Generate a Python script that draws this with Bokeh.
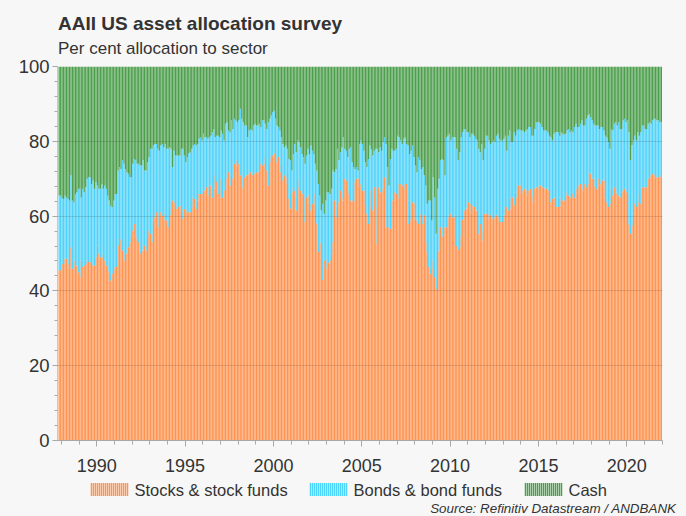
from bokeh.plotting import figure
from bokeh.layouts import column
from bokeh.models import ColumnDataSource, Range1d, FixedTicker, Label
from bokeh.embed import file_html
from bokeh.resources import INLINE

# ---------------- data (monthly, Nov 1987 - Dec 2021) ----------------
start_year = 1987
start_month = 11

# stock allocation (% , top of orange bars)
stocks = [
    45.5, 45.5,                                                              # 1987 Nov-Dec
    47.2, 47.2, 48.6, 48.6, 47.2, 45.9, 51.7, 45.9, 48.1, 46.8, 46.8, 45.0,  # 1988
    43.7, 48.1, 46.4, 46.8, 48.1, 47.2, 47.7, 47.7, 47.2, 46.8, 46.8, 49.0,  # 1989
    52.1, 49.9, 49.0, 49.0, 49.9, 48.1, 46.8, 45.5, 45.0, 42.8, 44.6, 45.5,  # 1990
    46.4, 46.4, 52.1, 53.0, 53.9, 50.8, 48.1, 49.9, 49.9, 51.7, 53.0, 54.4,  # 1991
    56.1, 57.9, 54.8, 53.9, 53.0, 49.9, 50.8, 50.8, 52.1, 50.8, 54.4, 56.1,  # 1992
    55.3, 53.0, 58.8, 59.7, 61.0, 57.0, 60.0, 61.0, 60.0, 59.0, 60.6, 58.8,  # 1993
    57.0, 61.9, 60.2, 64.2, 63.5, 62.4, 61.9, 62.4, 62.8, 61.5, 59.3, 61.9,  # 1994
    61.5, 61.0, 61.0, 61.0, 62.4, 65.0, 64.6, 61.9, 64.2, 65.9, 65.9, 65.9,  # 1995
    66.8, 66.8, 67.7, 65.5, 68.2, 68.2, 65.0, 70.9, 67.3, 69.1, 65.9, 65.0,  # 1996
    70.0, 65.0, 66.8, 67.3, 70.0, 71.7, 68.2, 70.9, 70.0, 74.0, 74.9, 73.5,  # 1997
    74.0, 70.9, 68.2, 67.3, 70.4, 70.9, 70.9, 71.3, 71.7, 70.9, 71.3, 71.3,  # 1998
    71.7, 71.7, 72.2, 74.0, 73.5, 74.0, 75.8, 72.2, 68.2, 74.4, 75.8, 76.2,  # 1999
    76.8, 75.3, 74.4, 75.8, 71.7, 74.0, 69.5, 70.9, 70.4, 68.6, 64.6, 62.0,  # 2000
    66.4, 67.7, 66.8, 61.5, 70.0, 67.7, 66.8, 66.0, 65.5, 58.4, 65.0, 65.5,  # 2001
    63.3, 61.5, 63.3, 65.9, 63.0, 58.0, 50.4, 52.6, 53.0, 43.0, 48.1, 48.6,  # 2002
    45.9, 47.5, 48.1, 49.9, 53.0, 64.2, 59.7, 62.4, 63.7, 66.8, 65.0, 64.2,  # 2003
    70.0, 69.5, 65.9, 66.8, 64.2, 64.2, 63.7, 69.1, 70.0, 70.0, 67.7, 68.6,  # 2004
    66.8, 66.8, 63.0, 60.6, 57.9, 66.8, 62.4, 61.5, 67.7, 52.6, 62.4, 67.7,  # 2005
    66.4, 66.4, 67.3, 70.4, 57.0, 60.2, 57.0, 56.6, 64.2, 64.2, 66.4, 65.9,  # 2006
    68.6, 64.6, 68.6, 68.2, 67.3, 68.6, 68.6, 57.9, 64.2, 58.8, 63.7, 63.3,  # 2007
    59.3, 58.8, 57.9, 60.6, 60.2, 57.9, 60.2, 53.0, 50.4, 46.4, 44.6, 45.9,  # 2008
    48.1, 43.7, 40.5, 50.4, 50.8, 57.0, 54.4, 54.8, 57.0, 57.0, 59.7, 60.2,  # 2009
    60.6, 59.7, 59.7, 60.2, 52.0, 51.0, 51.7, 54.8, 59.0, 61.5, 62.0, 62.0,  # 2010
    63.7, 63.3, 61.0, 62.8, 62.4, 61.5, 61.5, 55.3, 57.9, 53.5, 56.1, 60.6,  # 2011
    60.6, 59.3, 60.6, 60.2, 59.3, 59.3, 59.7, 60.2, 59.7, 58.8, 58.4, 58.4,  # 2012
    60.2, 62.4, 62.4, 61.5, 65.0, 62.0, 65.0, 63.0, 66.4, 65.0, 68.2, 68.2,  # 2013
    65.9, 66.8, 67.3, 66.8, 65.5, 66.8, 67.3, 65.5, 63.7, 67.3, 67.7, 67.3,  # 2014
    68.2, 68.2, 67.7, 67.7, 67.3, 67.3, 66.8, 67.3, 63.7, 64.6, 65.0, 65.0,  # 2015
    62.4, 62.4, 65.0, 62.8, 64.2, 64.2, 65.5, 66.4, 65.5, 65.0, 66.4, 65.9,  # 2016
    65.0, 67.3, 66.4, 68.2, 68.6, 67.3, 66.8, 68.6, 67.7, 68.6, 71.7, 71.3,  # 2017
    70.0, 70.0, 68.0, 67.3, 70.0, 68.2, 68.6, 69.5, 69.5, 65.0, 63.7, 62.4,  # 2018
    63.3, 67.3, 65.5, 67.7, 65.9, 66.4, 65.5, 65.0, 66.4, 66.8, 67.3, 66.4,  # 2019
    65.9, 58.0, 55.3, 57.5, 60.6, 63.3, 62.4, 63.7, 65.9, 63.3, 67.7, 67.7,  # 2020
    67.7, 67.7, 70.0, 70.4, 70.9, 71.3, 70.9, 70.4, 70.4, 70.4, 70.9, 70.4,  # 2021
]

# stocks + bonds allocation (% , top of blue bars); cash fills the rest to 100
stocks_bonds = [
    65.5, 65.5,                                                              # 1987 Nov-Dec
    64.8, 64.6, 65.5, 65.0, 64.6, 64.2, 70.9, 64.2, 63.7, 65.9, 66.4, 67.3,  # 1988
    67.3, 65.0, 67.3, 66.4, 67.7, 70.0, 70.4, 70.4, 68.6, 69.5, 67.3, 69.1,  # 1989
    68.2, 67.3, 67.3, 68.6, 67.3, 68.2, 67.3, 65.5, 64.2, 62.8, 62.4, 64.2,  # 1990
    65.9, 65.9, 72.2, 73.1, 72.6, 74.9, 74.0, 72.6, 71.7, 71.3, 70.4, 70.4,  # 1991
    74.0, 75.3, 74.9, 74.0, 74.0, 73.5, 73.5, 74.9, 72.2, 72.2, 74.4, 75.8,  # 1992
    78.0, 78.0, 78.9, 79.3, 79.3, 78.0, 77.5, 78.9, 79.3, 78.4, 79.3, 78.0,  # 1993
    78.0, 78.4, 78.0, 73.1, 77.5, 76.2, 76.2, 76.2, 76.2, 78.0, 78.0, 76.2,  # 1994
    74.4, 75.8, 76.8, 77.1, 78.0, 78.9, 79.3, 78.9, 79.3, 80.7, 81.1, 80.2,  # 1995
    82.0, 81.1, 81.1, 80.7, 81.1, 81.5, 82.4, 83.3, 81.1, 81.5, 81.5, 81.1,  # 1996
    82.9, 82.0, 80.2, 84.7, 85.1, 82.9, 82.4, 85.6, 83.3, 86.0, 85.6, 85.1,  # 1997
    85.6, 88.7, 86.0, 85.1, 84.2, 84.2, 81.1, 82.9, 83.3, 82.9, 84.2, 84.7,  # 1998
    84.2, 84.2, 84.7, 83.8, 85.6, 85.6, 84.7, 83.3, 85.1, 86.0, 86.9, 87.8,  # 1999
    88.2, 86.0, 84.2, 83.8, 82.9, 81.1, 79.3, 78.4, 78.9, 78.0, 75.3, 74.9,  # 2000
    72.2, 76.6, 79.3, 77.1, 80.2, 79.8, 78.4, 76.6, 75.8, 74.0, 76.2, 78.0,  # 2001
    76.6, 78.9, 77.5, 76.6, 74.0, 72.2, 68.6, 65.5, 61.5, 63.3, 60.6, 64.2,  # 2002
    66.4, 66.4, 65.9, 67.3, 72.2, 71.7, 72.6, 78.0, 74.9, 77.1, 78.4, 81.1,  # 2003
    78.0, 77.5, 75.8, 78.0, 78.4, 74.4, 73.1, 72.6, 73.1, 72.2, 79.3, 80.2,  # 2004
    79.3, 77.5, 74.4, 73.1, 75.3, 78.9, 77.8, 76.2, 77.5, 78.0, 78.0, 77.1,  # 2005
    78.4, 77.5, 79.8, 81.1, 79.3, 73.1, 68.2, 75.3, 78.0, 77.5, 77.5, 78.0,  # 2006
    81.5, 81.1, 80.2, 79.3, 80.7, 81.1, 79.3, 78.9, 76.6, 77.5, 78.9, 75.8,  # 2007
    73.5, 71.7, 75.8, 74.9, 72.6, 73.1, 70.9, 68.2, 63.3, 64.2, 64.2, 58.8,  # 2008
    70.4, 65.0, 55.3, 67.3, 70.0, 74.9, 75.3, 74.9, 70.9, 81.1, 81.5, 82.0,  # 2009
    80.2, 81.1, 81.1, 81.1, 78.0, 75.0, 77.1, 81.1, 82.4, 83.3, 83.3, 82.4,  # 2010
    82.4, 81.1, 82.0, 82.0, 81.5, 80.7, 80.2, 78.0, 77.1, 79.3, 74.9, 78.0,  # 2011
    81.5, 81.5, 80.2, 79.3, 79.8, 80.2, 79.8, 81.5, 82.0, 80.7, 80.2, 80.2,  # 2012
    80.7, 81.5, 77.5, 81.5, 82.9, 79.8, 79.8, 82.4, 81.5, 82.9, 83.3, 82.9,  # 2013
    82.9, 82.9, 82.4, 82.9, 83.3, 83.8, 83.8, 81.5, 81.5, 83.3, 85.1, 85.1,  # 2014
    85.1, 84.7, 83.8, 82.9, 82.9, 82.9, 82.4, 81.5, 81.1, 80.2, 82.0, 82.4,  # 2015
    82.4, 82.4, 81.5, 82.4, 82.0, 81.8, 82.0, 83.0, 83.3, 82.4, 82.9, 82.4,  # 2016
    83.8, 84.7, 83.8, 83.8, 84.7, 85.6, 84.2, 84.2, 86.0, 86.9, 87.3, 86.5,  # 2017
    85.6, 84.7, 84.2, 84.2, 84.2, 83.3, 83.8, 83.8, 82.9, 81.5, 81.1, 79.8,  # 2018
    78.0, 83.3, 82.9, 84.7, 85.1, 84.2, 85.1, 83.3, 83.3, 85.6, 86.0, 85.1,  # 2019
    85.6, 82.4, 75.0, 79.0, 80.2, 81.5, 80.2, 82.4, 81.5, 82.4, 84.2, 84.2,  # 2020
    83.3, 83.3, 84.7, 85.1, 84.7, 85.6, 86.0, 86.0, 85.6, 85.6, 85.1, 85.1,  # 2021
]

series_labels = ["Stocks & stock funds", "Bonds & bond funds", "Cash"]
series_colors = ["#ff9450", "#4fd3fa", "#4c9f4c"]
x_ticks = [1990, 1995, 2000, 2005, 2010, 2015, 2020]
y_ticks = [0, 20, 40, 60, 80, 100]

title_text = "AAII US asset allocation survey"
subtitle_text = "Per cent allocation to sector"
source_text = "Source: Refinitiv Datastream / ANDBANK"

# ---------------- derived columns ----------------
assert len(stocks) == len(stocks_bonds)
n = len(stocks)
xs = [start_year + (start_month - 1 + i + 0.5) / 12.0 for i in range(n)]
bonds = [round(t - s, 1) for s, t in zip(stocks, stocks_bonds)]
cash = [round(100.0 - t, 1) for t in stocks_bonds]
src = ColumnDataSource(dict(x=xs, stocks=stocks, bonds=bonds, cash=cash))

BG = "#f7f7f7"
FONT = "Liberation Sans"
TXT = "#333333"
W = 686
TOP_H, MAIN_H, BOT_H = 58, 420, 38


def strip(h):
    f = figure(width=W, height=h, output_backend="svg", toolbar_location=None,
               x_range=Range1d(0, W), y_range=Range1d(h, 0),
               x_axis_location=None, y_axis_location=None, min_border=0,
               frame_align=False,
               background_fill_color=BG, border_fill_color=BG, outline_line_color=None)
    f.xgrid.visible = False
    f.ygrid.visible = False
    return f


# ---------------- title strip ----------------
top = strip(TOP_H)
top.add_layout(Label(x=57.5, y=22.5, text=title_text, text_font=FONT, text_font_size="19px",
                     text_font_style="bold", text_color=TXT, text_baseline="middle",
                     text_align="left"))
top.add_layout(Label(x=57.5, y=47.5, text=subtitle_text, text_font=FONT, text_font_size="17px",
                     text_color=TXT, text_baseline="middle", text_align="left"))

# ---------------- main chart ----------------
p = figure(width=W, height=MAIN_H, output_backend="svg", toolbar_location=None,
           x_range=Range1d(1987.78, 2022.02), y_range=Range1d(0, 100),
           min_border_left=57, min_border_right=24, min_border_top=8, min_border_bottom=38,
           frame_align=False,
           background_fill_color=BG, border_fill_color=BG, outline_line_color=None)

rs = p.vbar_stack(["stocks", "bonds", "cash"], x="x", width=0.84 / 12, source=src,
                  fill_color=series_colors, line_color=None)

p.xaxis.ticker = FixedTicker(ticks=x_ticks, minor_ticks=list(range(1988, 2023)))
p.yaxis.ticker = FixedTicker(ticks=y_ticks, minor_ticks=list(range(0, 101, 4)))
for ax in (p.xaxis[0], p.yaxis[0]):
    ax.major_label_text_font = FONT
    ax.major_label_text_color = TXT
    ax.axis_line_color = "#a8a8a8"
    ax.major_tick_line_color = "#a8a8a8"
    ax.minor_tick_line_color = "#a8a8a8"
    ax.major_tick_in = 0
    ax.minor_tick_in = 0
p.xaxis.major_label_text_font_size = "18px"
p.xaxis.major_tick_out = 6
p.xaxis.minor_tick_out = 4
p.xaxis.major_label_standoff = 12
p.yaxis.major_label_text_font_size = "18.5px"
p.yaxis.major_tick_out = 5
p.yaxis.minor_tick_out = 3
p.yaxis.major_label_standoff = 3
p.yaxis.axis_line_color = "#c8c8c8"

p.xgrid.visible = False
p.ygrid.ticker = FixedTicker(ticks=[20, 40, 60, 80])
p.ygrid.grid_line_color = "#000000"
p.ygrid.grid_line_alpha = 0.12
p.ygrid.level = "overlay"

# ---------------- legend + source strip ----------------
bot = strip(BOT_H)
legend_left = [90, 309, 524]          # left edge of each swatch (px)
stripe_x, stripe_c = [], []
for left, col in zip(legend_left, series_colors):
    for j in range(19):
        stripe_x.append(left + 1 + 2 * j)
        stripe_c.append(col)
bot.vbar(x=stripe_x, width=1.5, top=4.5, bottom=17.5, fill_color=stripe_c, line_color=None)
for left, lab in zip(legend_left, series_labels):
    bot.add_layout(Label(x=left + 44, y=11, text=lab, text_font=FONT, text_font_size="16.5px",
                         text_color=TXT, text_baseline="middle", text_align="left"))
bot.add_layout(Label(x=676, y=29.5, text=source_text, text_font=FONT, text_font_size="13.4px",
                     text_font_style="italic", text_color=TXT, text_baseline="middle",
                     text_align="right"))

layout = column(top, p, bot, spacing=0)
html = file_html(layout, INLINE)
html = html.replace("<head>", "<head><style>html,body{background:#f7f7f7;}</style>", 1)
open("out.html", "w").write(html)
